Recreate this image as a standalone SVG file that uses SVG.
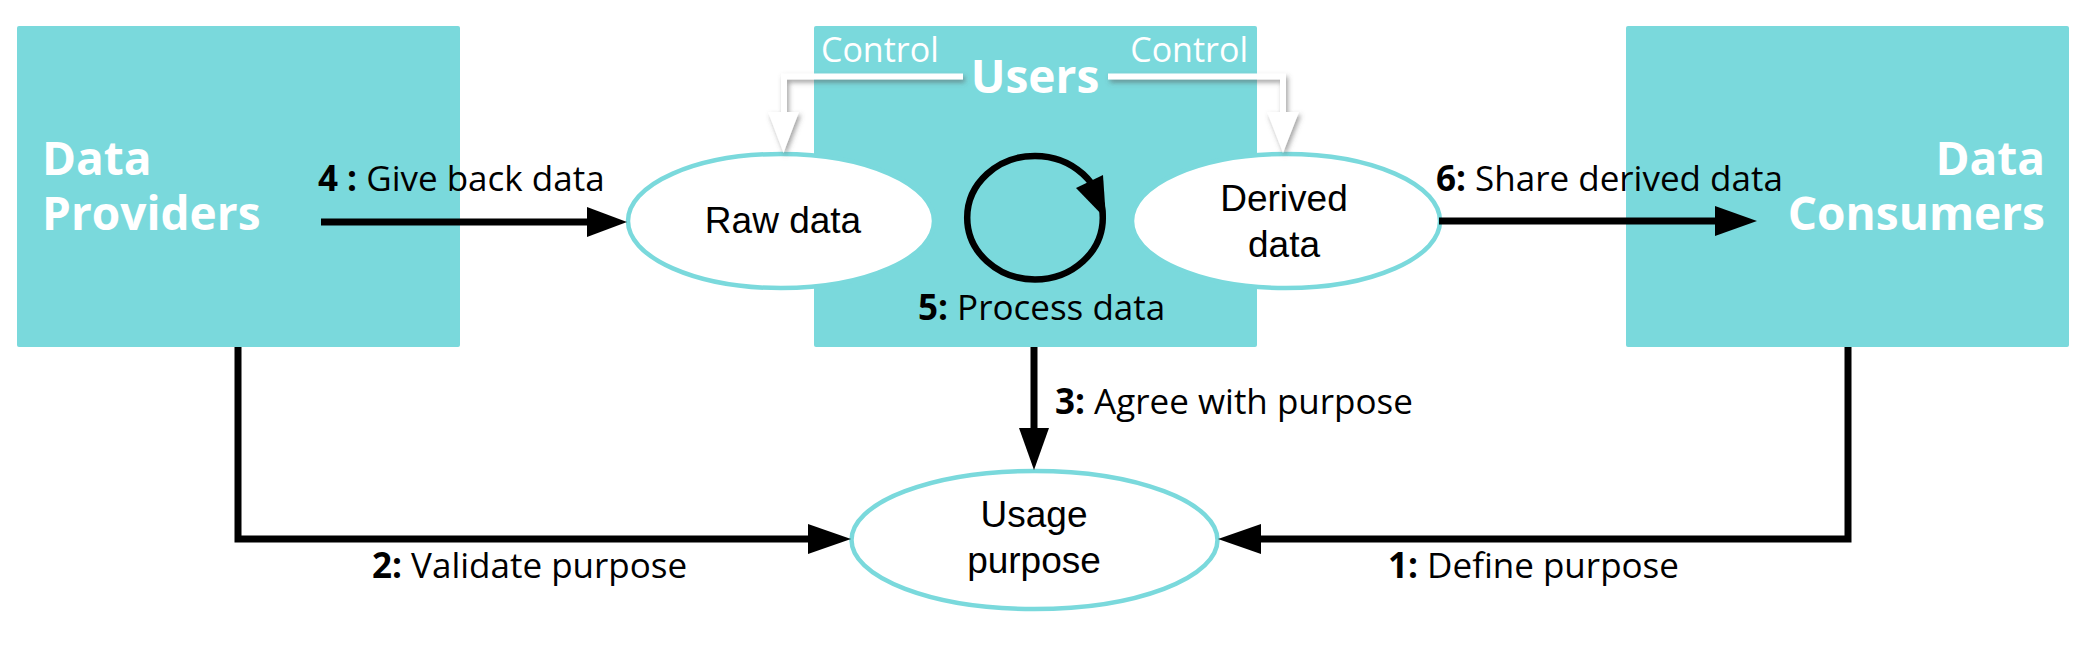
<svg xmlns="http://www.w3.org/2000/svg" width="2082" height="646" viewBox="0 0 2082 646">
<defs>
<style>
.box{fill:#7ad9dc}
.ell{fill:#fff;stroke:#7ad9dc;stroke-width:4.5}
.big{font-family:"Open Sans",sans-serif;font-weight:700;font-size:46px;fill:#fff}
.ctl{font-family:"Open Sans",sans-serif;font-size:34px;fill:#fff}
.lbl{font-family:"Open Sans",sans-serif;font-size:35px;fill:#000}
.lbl tspan.b{font-weight:700}
.nt{font-family:"Liberation Sans",Arial,sans-serif;font-size:37px;fill:#000;text-anchor:middle}
.conn{fill:none;stroke:#000;stroke-width:7}
.ctrl{fill:none;stroke:#fff;stroke-width:6}
</style>
<filter id="sh" x="-20%" y="-20%" width="140%" height="160%">
<feDropShadow dx="2" dy="3" stdDeviation="2.5" flood-color="#555" flood-opacity="0.55"/>
</filter>
</defs>
<rect width="2082" height="646" fill="#fff"/>

<g id="providers">
<rect class="box" x="17" y="26" width="443" height="321" rx="2"/>
<text class="big" x="42" y="175">Data</text>
<text class="big" x="42" y="230">Providers</text>
</g>

<g id="users">
<rect class="box" x="814" y="26" width="443" height="321" rx="2"/>
<text class="big" x="1035" y="93" text-anchor="middle">Users</text>
<text class="ctl" x="821" y="62">Control</text>
<text class="ctl" x="1248" y="62" text-anchor="end">Control</text>
</g>

<g id="consumers">
<rect class="box" x="1626" y="26" width="443" height="321" rx="2"/>
<text class="big" x="2045" y="175" text-anchor="end">Data</text>
<text class="big" x="2045" y="230" text-anchor="end">Consumers</text>
</g>

<g id="rawdata">
<ellipse class="ell" cx="781" cy="221" rx="153" ry="67"/>
<text class="nt" x="783" y="233">Raw data</text>
</g>

<g id="deriveddata">
<ellipse class="ell" cx="1286" cy="221" rx="154" ry="67"/>
<text class="nt" x="1284" y="211">Derived</text>
<text class="nt" x="1284" y="257">data</text>
</g>

<g id="usagepurpose">
<ellipse class="ell" cx="1034.5" cy="540" rx="183" ry="69"/>
<text class="nt" x="1034" y="527">Usage</text>
<text class="nt" x="1034" y="573">purpose</text>
</g>

<g id="connectors">
<g filter="url(#sh)">
<path class="ctrl" d="M963,76.5 H784 V114"/>
<polygon points="768,112 799,112 783.5,153" fill="#fff"/>
<path class="ctrl" d="M1108,76.5 H1283 V114"/>
<polygon points="1267,112 1299,112 1283,153" fill="#fff"/>
</g>
<path class="conn" d="M321,222 H590"/>
<polygon points="587,207 627,222 587,237"/>
<path class="conn" d="M1439,221 H1717"/>
<polygon points="1715,206 1757,221 1715,236"/>
<path class="conn" d="M1034,347 V430"/>
<polygon points="1019,428 1034,470 1049,428"/>
<path class="conn" d="M238,347 V539 H810"/>
<polygon points="808,524 851,539 808,554"/>
<path class="conn" d="M1848,347 V539 H1259"/>
<polygon points="1261,524 1218,539 1261,554"/>
<ellipse cx="1035" cy="217.7" rx="67.8" ry="61.8" fill="none" stroke="#000" stroke-width="6.5"/>
<polygon points="1076,188 1103,175 1106,219"/>
<text class="lbl" x="318" y="191"><tspan class="b">4 :</tspan> Give back data</text>
<text class="lbl" x="1436" y="191"><tspan class="b">6:</tspan> Share derived data</text>
<text class="lbl" x="918" y="320"><tspan class="b">5:</tspan> Process data</text>
<text class="lbl" x="1055" y="414"><tspan class="b">3:</tspan> Agree with purpose</text>
<text class="lbl" x="372" y="578"><tspan class="b">2:</tspan> Validate purpose</text>
<text class="lbl" x="1388" y="578"><tspan class="b">1:</tspan> Define purpose</text>
</g>
</svg>
